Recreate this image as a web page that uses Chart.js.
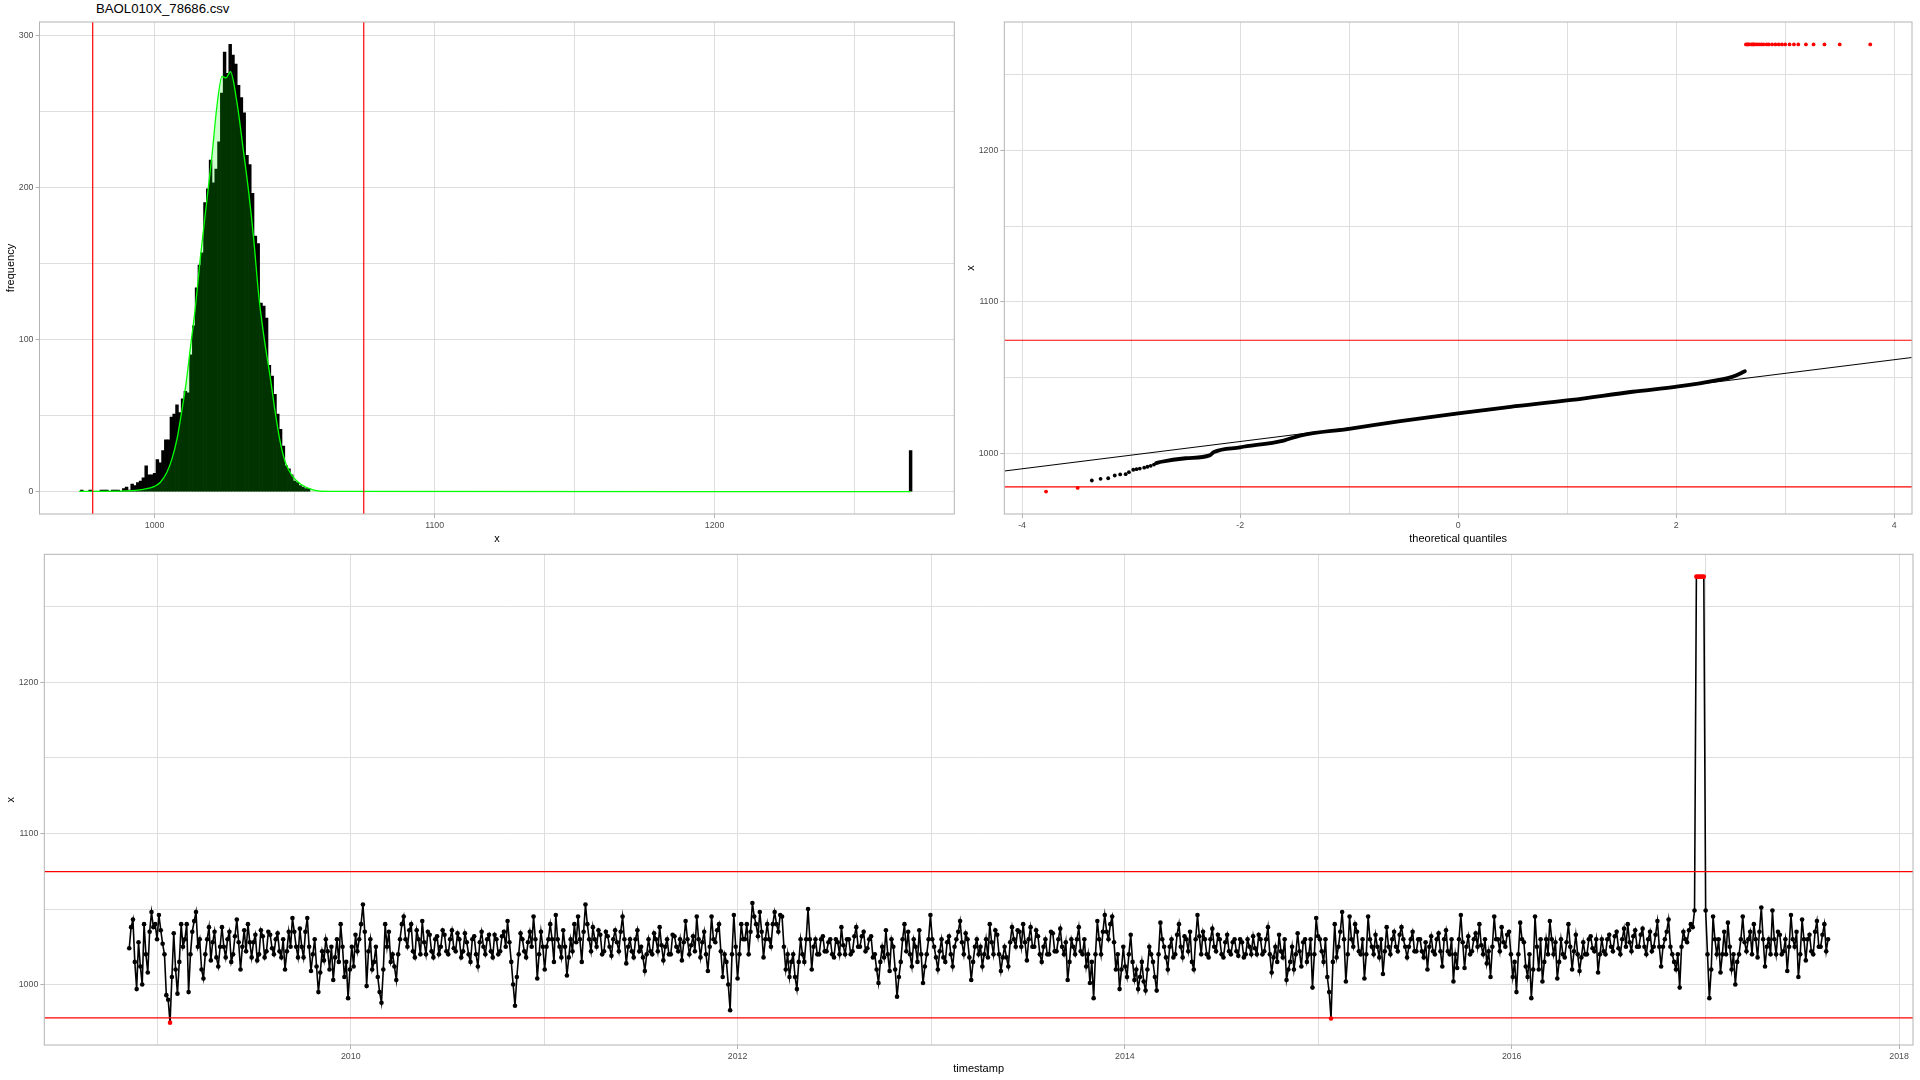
<!DOCTYPE html>
<html><head><meta charset="utf-8">
<script src="https://cdn.jsdelivr.net/npm/chart.js"></script>
<style>
html,body{margin:0;padding:0;background:#fff;width:1920px;height:1080px;overflow:hidden}
canvas{position:absolute}
#title{position:absolute;left:96px;top:1px;font-family:'Liberation Sans',Arial,sans-serif;font-size:13.2px;color:#000;white-space:nowrap}
</style></head><body>
<div id="title">BAOL010X_78686.csv</div>
<canvas id="hist" width="960" height="550" style="left:0;top:0"></canvas>
<canvas id="qq" width="960" height="550" style="left:960px;top:0"></canvas>
<canvas id="ts" width="1920" height="540" style="left:0;top:540px"></canvas>
<script>
// ---------------- data ----------------
const lowerLimit = 977.9;
const upperLimit = 1074.7;

// histogram (bin centres, counts)
const histBins = [974,975,976,977,978,979,980,981,982,983,984,985,986,987,988,989,990,991,992,993,994,995,996,997,998,999,
  1000,1001,1002,1003,1004,1005,1006,1007,1008,1009,1010,1011,1012,1013,1014,1015,1016,1017,1018,1019,1020,1021,1022,1023,
  1024,1025,1026,1027,1028,1029,1030,1031,1032,1033,1034,1035,1036,1037,1038,1039,1040,1041,1042,1043,1044,1045,1046,1047,
  1048,1049,1050,1051,1052,1053,1054,1055,1270];
const histCounts = [1,0,0,1,0,0,0,1,1,1,0,1,1,1,0,2,3,1,5,4,6,7,9,17,11,11,
  12,21,19,27,34,34,49,51,57,52,61,66,65,90,109,134,149,157,190,199,218,203,212,230,
  262,289,275,294,287,281,267,259,249,221,215,196,168,163,124,122,114,83,76,64,51,41,30,17,
  15,11,7,6,4,3,2,2,27];
// density curve (scaled to counts)
const densX = [973,990,996,1000,1002,1004.4,1006.2,1008,1009.8,1011.3,1012.75,1014.5,1016.3,1018.7,1020.5,1022.3,1024.1,1025.5,1027.1,
  1029.4,1031.8,1033.6,1035.4,1037.2,1039,1041.4,1043.1,1044.9,1046.7,1049.1,1052.1,1056.9,1062,1270];
const densY = [0.2,0.5,1.5,3.5,6,12.7,21.5,34.6,54,72,94,120,153,192,221,254,273,272,276,
  256,223,197,166,129,102.5,74,52,32.4,19.3,10.5,5,1,0.2,0];

// QQ plot
const qqBandX = [-2.77,-2.72,-2.5,-2.28,-2.24,-2.0,-1.6,-1.45,-1.0,-0.53,0,0.48,1.04,1.6,2.02,2.38,2.52,2.63];
const qqBandY = [993.6,994.5,996.8,998.7,1000.9,1004.0,1008.5,1011.8,1016.2,1021.3,1026.5,1030.7,1035.3,1040.7,1044.2,1048.4,1050.7,1054.2];
const qqTailX = [-3.36,-3.28,-3.21,-3.15,-3.10,-3.05,-3.02,-2.98,-2.95,-2.92,-2.88,-2.85,-2.82,-2.79];
const qqTailY = [982.1,983.2,983.6,985.4,986.1,986.3,987.6,989.2,989.6,990.0,990.6,991.2,991.8,992.6];
const qqOutLowX = [-3.78,-3.49];
const qqOutLowY = [974.8,977.2];
const qqOutHighX = [2.64,2.65,2.66,2.67,2.69,2.70,2.71,2.72,2.74,2.76,2.78,2.80,2.83,2.85,2.88,2.91,2.94,2.97,3.00,3.04,3.08,3.12,3.19,3.26,3.36,3.50,3.78];
const qqOutHighY = [1270,1270,1270,1270,1270,1270,1270,1270,1270,1270,1270,1270,1270,1270,1270,1270,1270,1270,1270,1270,1270,1270,1270,1270,1270,1270,1270];
const qqLineX = [-4.16,4.16];
const qqLineY = [988.4,1063.3];

// time series: readings at the start of each week and in mid-week
const tsStart = Date.UTC(2008,10,9);
const tsStepDays = 7;
const tsWeekly = [
1024,1043,997,1012,1040,1008,1048,1040,1046,1027,
993,974.8,1034,994,1040,1030,995,1035,1048,1030,
1004,1030,1016,1035,1012,1038,1018,1035,1020,1043,
1010,1036,1040,1018,1033,1020,1032,1022,1033,1020,
1034,1018,1010,1035,1044,1025,1037,1018,1044,1009,
1030,995,1022,1030,1010,1003,1030,1040,1005,991,
1025,1033,1030,1053,999,1030,1015,1005,988,1040,
1035,1020,1003,1030,1045,1025,1040,1018,1030,1042,
1020,1033,1018,1032,1025,1033,1020,1036,1022,1030,
1022,1028,1015,1032,1012,1035,1020,1033,1018,1030,
1022,1035,1042,1015,986,1020,1030,1018,1035,1045,
1004,1035,1010,1030,
1030,1046,1025,1036,1006,1030,1040,1045,1015,1053,
1030,1038,1025,1033,1022,1032,1019,1036,1022,1045,
1014,1030,1018,1036,1025,1009,1030,1020,1030,1038,
1016,1030,1020,1032,1022,1016,1042,1020,1032,1045,
1018,1035,1009,1045,1028,1040,1005,1015,983,1046,
1004,1040,1030,1020,1054,1040,1048,1018,1040,1025,
1048,1035,1045,1010,1005,1020,997,1030,1015,1050,
1010,1030,1020,1032,1022,1030,1018,1028,1038,1020,
1030,1022,1038,1025,1035,1024,1032,1020,1001,1025,
1036,1009,1025,992,1015,1040,1035,1012,1025,1036,
1001,1020,1046,1025,1010,1030,1015,1032,1012,1030,
1042,1020,1030,1003,1025,1020,
1012,1030,1040,1020,1033,1009,1025,1012,1038,1025,
1035,1040,1016,1038,1025,1032,1015,1030,1020,1034,
1022,1037,1020,1003,1030,1020,1038,1020,1012,1001,
991,1042,1020,1046,1030,1045,1010,997,1025,1005,
1033,1003,997,1015,996,1025,1015,996,1041,1025,
1010,1030,1020,1040,1018,1030,1035,1010,1046,1020,
1030,1018,1037,1022,1030,1018,1033,1020,1030,1019,
1028,1020,1025,1032,1020,1030,1022,1038,1008,1025,
1033,1018,1003,1015,1010,1034,1012,1030,1020,998,
1044,1030,1015,1005,977.5,1040,1025,1048,1002,1045,
1025,1035,1020,1004,1045,1025,1033,1018,1007,1038,
1020,1035,1022,1038,1025,
1025,1035,1022,1030,1018,1010,1032,1020,1034,1012,
1036,1020,1002,1011,1046,1011,1032,1022,1034,1040,
1020,1014,1005,1045,1030,1038,1025,1035,1005,995,
1041,1028,1005,991,1045,1010,1002,1030,1042,1020,
1004,1030,1018,1040,1010,1033,1009,1028,1020,1032,
1022,1008,1030,1020,1033,1022,1035,1020,1037,1040,
1022,1036,1025,1037,1020,1035,1025,1042,1012,1030,
1043,1020,1010,998,1035,1028,1040,1049,1270,1270,
1049,991,1045,1020,1008,1035,1041,1010,1000,1020,
1045,1022,1035,1040,1018,1051,1012,1030,1049,1020,
1033,1022,1009,1046,1025,1005,1043,1016,1033,1020,
1042,1025,1040,1030
];
const tsMidweek = [
1038,1015,1028,1000,1020,1035,1038,1030,1036,1020,
990,1005,1010,1015,1025,1040,1020,1042,1025,1010,
1020,1038,1028,1018,1025,1025,1030,1015,1032,1028,
1025,1022,1028,1028,1016,1036,1018,1035,1024,1030,
1022,1030,1022,1025,1035,1018,1025,1035,1025,1020,
1012,1008,1016,1022,1025,1018,1015,1025,1015,1010,
1012,1022,1040,1035,1022,1010,1025,995,1010,1025,
1015,1012,1020,1040,1030,1036,1022,1036,1020,1028,
1035,1022,1030,1020,1036,1022,1030,1024,1034,1018,
1034,1020,1030,1020,1028,1025,1030,1022,1033,1020,
1032,1025,1028,1000,1005,1034,1022,1028,1025,1030,
1020,1025,1025,1040,1015,1030,1018,1025,1018,1022,
1028,1030,1035,1040,1022,1030,1036,1020,1035,1025,
1030,1028,1035,1030,1025,1022,1030,1022,1018,1020,
1022,1034,1022,1026,1025,1020,1033,1025,1030,1028,
1030,1026,1022,1030,1028,1020,1025,1030,1036,1022,
1020,1000,1020,1025,1020,1030,1040,1035,1045,1032,
1035,1030,1030,1040,1040,1046,1025,1020,1015,1005,
1015,1020,1030,1030,1025,1020,1030,1022,1028,1020,
1030,1020,1026,1030,1020,1032,1025,1032,1022,1030,
1018,1010,1015,1018,1020,1030,1010,1005,1030,1022,
1020,1030,1015,1020,1012,1030,1030,1018,1022,1018,
1028,1020,1025,1035,1028,1034,1018,1015,1030,1025,
1020,1018,1028,1036,1020,1018,1018,1028,1030,1036,
1025,1028,1030,1025,1036,1020,1025,1020,1035,1022,
1030,1025,1028,1015,1025,1030,1022,1030,1020,1015,
1020,1030,1035,1035,1040,1028,1020,1010,1012,1020,
1015,1010,1005,1002,1010,1020,1005,1020,1030,1018,
1025,1018,1033,1025,1032,1022,1015,1030,1032,1035,
1020,1030,1025,1033,1020,1028,1022,1028,1022,1030,
1018,1030,1020,1024,1033,1020,1030,1020,1018,1015,
1022,1030,1010,1025,1020,1022,1028,1015,1030,1020,
1032,1022,1030,995,1015,1018,1035,1030,1020,1030,
1040,1022,1030,1020,1030,1020,1025,1030,1022,1025,
1030,1025,1033,1030,1018,
1030,1022,1030,1022,1028,1025,1022,1030,1022,1030,
1022,1030,1020,1030,1028,1025,1020,1030,1025,1026,
1030,1022,1025,1030,1022,1028,1033,1020,1015,1020,
1030,1012,1020,1010,1025,1030,1015,1020,1030,1028,
1015,1020,1028,1025,1022,1020,1018,1020,1030,1024,
1030,1020,1022,1030,1025,1032,1024,1030,1025,1028,
1032,1025,1033,1025,1030,1022,1033,1025,1025,1035,
1025,1015,1020,1025,1030,1036,1038,1270,1270,1270,
1020,1010,1030,1030,1020,1020,1025,1020,1015,1030,
1028,1030,1020,1030,1035,1030,1025,1020,1030,1035,
1020,1030,1025,1030,1035,1020,1030,1030,1022,1035,
1025,1033,1022
];

// axis ticks
const histXTicks = [1000,1050,1100,1150,1200,1250];
const histXLabels = [1000,1100,1200];
const histYTicks = [0,50,100,150,200,250,300];
const histYLabels = [0,100,200,300];
const qqXTicks = [-4,-3,-2,-1,0,1,2,3,4];
const qqXLabels = [-4,-2,0,2,4];
const xValTicks = [1000,1050,1100,1150,1200,1250];
const xValLabels = [1000,1100,1200];
const tsYearTicks = [2009,2010,2011,2012,2013,2014,2015,2016,2017,2018];
const tsYearLabels = [2010,2012,2014,2016,2018];

// ---------------- helpers ----------------
const FONT = "'Liberation Sans', Arial, Helvetica, sans-serif";
Chart.defaults.font.family = FONT;

const panelBorder = {
  id: 'panelBorder',
  afterDatasetsDraw(chart) {
    const {ctx, chartArea: a} = chart;
    ctx.save();
    ctx.strokeStyle = '#b3b3b3';
    ctx.lineWidth = 1;
    ctx.strokeRect(a.left, a.top, a.right - a.left, a.bottom - a.top);
    ctx.restore();
  }
};

function axis(o) {
  const major = new Set(o.labelled);
  return {
    type: 'linear', position: o.position, min: o.min, max: o.max, offset: false,
    afterBuildTicks: ax => { ax.ticks = o.ticks.map(v => ({value: v})); },
    afterFit: ax => { if (o.position === 'left') ax.width = o.size; else ax.height = o.size; },
    grid: {
      color: '#dedede', lineWidth: 1, drawTicks: true, tickLength: 4, offset: false,
      tickColor: c => (c.tick && major.has(c.tick.value)) ? '#b3b3b3' : 'rgba(0,0,0,0)'
    },
    border: {display: false},
    ticks: {
      autoSkip: false, maxRotation: 0, minRotation: 0, padding: 2, color: '#4d4d4d',
      font: {family: FONT, size: 8.8},
      callback: v => major.has(v) ? o.fmt(v) : ''
    },
    title: {display: true, text: o.title, color: '#000', font: {family: FONT, size: 11}, padding: {top: 4, bottom: 4}}
  };
}
const pts = (xs, ys) => xs.map((x, i) => ({x, y: ys[i]}));
const baseOpts = {responsive: false, animation: false, devicePixelRatio: 1, events: [],
  plugins: {legend: {display: false}, tooltip: {enabled: false}, title: {display: false}}};

// ---------------- histogram ----------------
const hXmin = 958.9, hXmax = 1285.6, hYmin = -14.7, hYmax = 308.7;
new Chart(document.getElementById('hist'), {
  type: 'bar',
  data: {datasets: [
    {type: 'line', data: [{x: lowerLimit, y: hYmin}, {x: lowerLimit, y: hYmax}], borderColor: '#ff0000', borderWidth: 1.2, pointRadius: 0, fill: false, order: 0},
    {type: 'line', data: [{x: upperLimit, y: hYmin}, {x: upperLimit, y: hYmax}], borderColor: '#ff0000', borderWidth: 1.2, pointRadius: 0, fill: false, order: 0},
    {type: 'line', data: pts(densX, densY), borderColor: '#00ff00', borderWidth: 1.3, backgroundColor: 'rgba(0,255,0,0.2)',
      fill: 'origin', pointRadius: 0, cubicInterpolationMode: 'monotone', order: 1},
    {type: 'bar', data: pts(histBins, histCounts), backgroundColor: '#000000', borderWidth: 0,
      barPercentage: 1, categoryPercentage: 1, order: 2}
  ]},
  options: Object.assign({}, baseOpts, {
    layout: {padding: {left: 0, top: 22, right: 5.7, bottom: 0}},
    scales: {
      x: axis({position: 'bottom', min: hXmin, max: hXmax, ticks: histXTicks, labelled: histXLabels, size: 36, title: 'x', fmt: v => String(v)}),
      y: axis({position: 'left', min: hYmin, max: hYmax, ticks: histYTicks, labelled: histYLabels, size: 39.5, title: 'frequency', fmt: v => String(v)})
    }
  }),
  plugins: [panelBorder]
});

// ---------------- QQ plot ----------------
const qXmin = -4.163, qXmax = 4.163, vMin = 960.0, vMax = 1284.8;
new Chart(document.getElementById('qq'), {
  type: 'scatter',
  data: {datasets: [
    {data: [{x: qXmin, y: upperLimit}, {x: qXmax, y: upperLimit}], showLine: true, borderColor: '#ff0000', borderWidth: 1.2, pointRadius: 0},
    {data: [{x: qXmin, y: lowerLimit}, {x: qXmax, y: lowerLimit}], showLine: true, borderColor: '#ff0000', borderWidth: 1.2, pointRadius: 0},
    {data: pts(qqBandX, qqBandY), showLine: true, borderColor: '#000', borderWidth: 3.8, pointRadius: 0,
      borderCapStyle: 'round', borderJoinStyle: 'round', cubicInterpolationMode: 'monotone'},
    {data: pts(qqTailX, qqTailY), showLine: false, backgroundColor: '#000', pointRadius: 1.9, pointBorderWidth: 0},
    {data: pts(qqOutLowX, qqOutLowY), showLine: false, backgroundColor: '#ff0000', pointRadius: 1.9, pointBorderWidth: 0},
    {data: pts(qqOutHighX, qqOutHighY), showLine: false, backgroundColor: '#ff0000', pointRadius: 1.9, pointBorderWidth: 0},
    {data: pts(qqLineX, qqLineY), showLine: true, borderColor: '#000', borderWidth: 1, pointRadius: 0}
  ]},
  options: Object.assign({}, baseOpts, {
    layout: {padding: {left: 0, top: 22, right: 8, bottom: 0}},
    scales: {
      x: axis({position: 'bottom', min: qXmin, max: qXmax, ticks: qqXTicks, labelled: qqXLabels, size: 36, title: 'theoretical quantiles', fmt: v => String(v)}),
      y: axis({position: 'left', min: vMin, max: vMax, ticks: xValTicks, labelled: xValLabels, size: 44.3, title: 'x', fmt: v => String(v)})
    }
  }),
  plugins: [panelBorder]
});

// ---------------- time series ----------------
const DAY = 86400000;
const tsPoints = [];
tsWeekly.forEach((v, i) => {
  tsPoints.push({x: tsStart + i * tsStepDays * DAY, y: v});
  if (i < tsMidweek.length) tsPoints.push({x: tsStart + (i + 0.5) * tsStepDays * DAY, y: tsMidweek[i]});
});
const tsFirst = tsPoints[0].x, tsLast = tsPoints[tsPoints.length - 1].x;
const tsPad = (tsLast - tsFirst) * 0.05;
const tMin = tsFirst - tsPad, tMax = tsLast + tsPad;
const yearMs = tsYearTicks.map(y => Date.UTC(y, 0, 1));
const yearLabelMs = tsYearLabels.map(y => Date.UTC(y, 0, 1));
new Chart(document.getElementById('ts'), {
  type: 'line',
  data: {datasets: [
    {data: [{x: tMin, y: upperLimit}, {x: tMax, y: upperLimit}], borderColor: '#ff0000', borderWidth: 1.2, pointRadius: 0, order: 0},
    {data: [{x: tMin, y: lowerLimit}, {x: tMax, y: lowerLimit}], borderColor: '#ff0000', borderWidth: 1.2, pointRadius: 0, order: 0},
    {data: tsPoints, borderColor: '#000', borderWidth: 1.6, pointRadius: 2.3, pointBorderWidth: 0,
      pointBackgroundColor: c => {
        const v = c.raw ? c.raw.y : 0;
        return (v > upperLimit || v < lowerLimit) ? '#ff0000' : '#000000';
      }, order: 1}
  ]},
  options: Object.assign({}, baseOpts, {
    layout: {padding: {left: 0, top: 14.3, right: 7, bottom: 0}},
    scales: {
      x: axis({position: 'bottom', min: tMin, max: tMax, ticks: yearMs, labelled: yearLabelMs, size: 35, title: 'timestamp',
        fmt: v => String(new Date(v).getUTCFullYear())}),
      y: axis({position: 'left', min: vMin, max: vMax, ticks: xValTicks, labelled: xValLabels, size: 44.3, title: 'x', fmt: v => String(v)})
    }
  }),
  plugins: [panelBorder]
});
</script>
</body></html>
